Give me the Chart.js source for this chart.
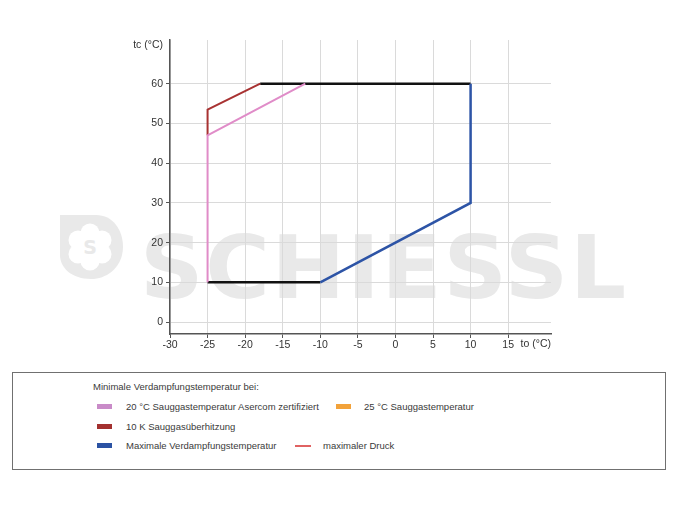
<!DOCTYPE html>
<html>
<head>
<meta charset="utf-8">
<script src="https://cdn.jsdelivr.net/npm/chart.js@4"></script>
<style>
  html, body { margin:0; padding:0; background:#fff; }
  body { width:685px; height:514px; position:relative; overflow:hidden; font-family:"Liberation Sans", Arial, sans-serif; }
  #wm { position:absolute; left:0; top:0; width:685px; height:365px; }
  #wrap { position:absolute; left:0; top:0; width:685px; height:365px; }
  #legend { position:absolute; left:12px; top:372px; width:652px; height:96px; border:1.5px solid #707070; color:#3a3a3a; font-size:9.5px; }
  #legend .t { position:absolute; white-space:nowrap; line-height:12px; }
  #legend .sw { position:absolute; width:15px; height:5px; }
  #legend .ln { position:absolute; width:16px; height:2px; }
</style>
</head>
<body>
<svg id="wm" width="685" height="365" xmlns="http://www.w3.org/2000/svg">
  <path d="M60,215 H96 C113,215 123,230 123,247 C123,265 109,279 91,279 C72,279 60,268 60,255 Z" fill="#e9e9e9"/>
  <g fill="#fff">
    <circle cx="90" cy="233" r="9.5"/>
    <circle cx="102" cy="240" r="9.5"/>
    <circle cx="102" cy="254" r="9.5"/>
    <circle cx="90" cy="261" r="9.5"/>
    <circle cx="78" cy="254" r="9.5"/>
    <circle cx="78" cy="240" r="9.5"/>
    <circle cx="90" cy="247" r="13"/>
  </g>
  <text x="90" y="254" text-anchor="middle" font-family="DejaVu Sans" font-weight="bold" font-size="19" fill="#e9e9e9">S</text>
  <text x="140" y="298" font-family="DejaVu Sans" font-weight="bold" font-size="88" fill="#e9e9e9" textLength="486" lengthAdjust="spacing">SCHIESSL</text>
</svg>
<div id="wrap"><canvas id="c" width="685" height="365"></canvas></div>
<div id="legend">
  <div class="t" style="left:80px;top:8px;">Minimale Verdampfungstemperatur bei:</div>
  <div class="sw" style="left:84px;top:31px;background:#c98bc8;"></div>
  <div class="t" style="left:113px;top:28px;">20 °C Sauggastemperatur Asercom zertifiziert</div>
  <div class="sw" style="left:323px;top:31px;background:#f2a23a;"></div>
  <div class="t" style="left:351px;top:28px;">25 °C Sauggastemperatur</div>
  <div class="sw" style="left:84px;top:51px;background:#a3302f;"></div>
  <div class="t" style="left:113px;top:48px;">10 K Sauggasüberhitzung</div>
  <div class="sw" style="left:84px;top:70px;background:#2b52a3;"></div>
  <div class="t" style="left:113px;top:67px;">Maximale Verdampfungstemperatur</div>
  <div class="ln" style="left:282px;top:72px;background:#e06262;"></div>
  <div class="t" style="left:310px;top:67px;">maximaler Druck</div>
</div>
<script>
const xTicks = [-30, -25, -20, -15, -10, -5, 0, 5, 10, 15];
const yTicks = [0, 10, 20, 30, 40, 50, 60];

const pinkX  = [-25, -25, -12];
const pinkY  = [10, 47, 60];
const brownX = [-25, -25, -18];
const brownY = [47, 53.5, 60];
const blueX  = [-10, 10, 10];
const blueY  = [10, 30, 60];
const blackTopX = [-18, 10];
const blackTopY = [60, 60];
const blackBotX = [-25, -10];
const blackBotY = [10, 10];

function pts(xs, ys) { return xs.map((x, i) => ({ x: x, y: ys[i] })); }

function ds(label, xs, ys, color, w) {
  return { label: label, data: pts(xs, ys), borderColor: color, backgroundColor: color,
           borderWidth: w, pointRadius: 0, showLine: true, tension: 0, fill: false };
}

const FONT = '"Liberation Sans", Arial, sans-serif';

const axisTitles = {
  id: 'axisTitles',
  afterDraw(chart) {
    const ctx = chart.ctx, a = chart.chartArea;
    ctx.save();
    ctx.font = '10.5px ' + FONT;
    ctx.fillStyle = '#333';
    ctx.textAlign = 'right';
    ctx.textBaseline = 'middle';
    ctx.fillText('tc (°C)', a.left - 7, a.top + 5);
    ctx.fillText('to (°C)', a.right, a.bottom + 10);
    ctx.restore();
  }
};

new Chart(document.getElementById('c'), {
  type: 'scatter',
  data: {
    datasets: [
      ds('20 °C Sauggastemperatur Asercom zertifiziert', pinkX, pinkY, '#e08cc8', 2),
      ds('10 K Sauggasüberhitzung', brownX, brownY, '#a83232', 2),
      ds('Maximale Verdampfungstemperatur', blueX, blueY, '#2d54a6', 2.5),
      ds('Grenze oben', blackTopX, blackTopY, '#111111', 2.5),
      ds('Grenze unten', blackBotX, blackBotY, '#111111', 2.5)
    ]
  },
  options: {
    responsive: false,
    animation: false,
    layout: { padding: { left: 0, top: 40, right: 134, bottom: 1 } },
    plugins: { legend: { display: false }, tooltip: { enabled: false } },
    scales: {
      x: {
        type: 'linear', min: -30, max: 20.7,
        afterBuildTicks: s => { s.ticks = xTicks.map(v => ({ value: v })); },
        afterFit: s => { s.height = 30; },
        grid: { color: '#dadada', lineWidth: 1, tickLength: 4, tickColor: '#555' },
        border: { color: '#555', width: 1.5 },
        ticks: { color: '#333', padding: 1, maxRotation: 0, font: { family: FONT, size: 10.5 } }
      },
      y: {
        type: 'linear', min: -3, max: 71,
        afterBuildTicks: s => { s.ticks = yTicks.map(v => ({ value: v })); },
        afterFit: s => { s.width = 170; },
        grid: { color: '#dadada', lineWidth: 1, tickLength: 4, tickColor: '#555' },
        border: { color: '#555', width: 1.5 },
        ticks: { color: '#333', padding: 3, font: { family: FONT, size: 10.5 } }
      }
    }
  },
  plugins: [axisTitles]
});
</script>
</body>
</html>
